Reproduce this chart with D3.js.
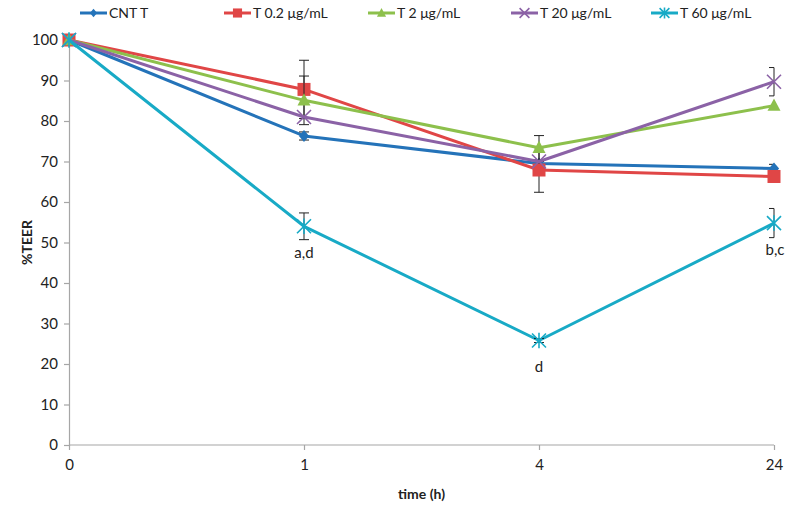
<!DOCTYPE html>
<html><head><meta charset="utf-8">
<script src="https://cdn.jsdelivr.net/npm/d3@7"></script>
<style>body{margin:0;background:#fff}svg{display:block;font-family:Lato,"Open Sans",sans-serif}</style>
</head><body><svg id="c" width="791" height="512"></svg>
<script>
const categories = ["0", "1", "4", "24"];
const seriesNames = ["CNT T", "T 0.2 μg/mL", "T 2 μg/mL", "T 20 μg/mL", "T 60 μg/mL"];
const cntT   = [100, 76.3, 69.5, 68.3];
const t02    = [100, 87.8, 67.9, 66.3];
const t2     = [100, 85.1, 73.4, 83.8];
const t20    = [100, 81.0, 70.0, 89.7];
const t60    = [100, 54.0, 25.8, 54.8];
const errCntT = [0, 1.0, 0.5, 1.0];
const errT02  = [0, 7.2, 5.5, 0];
const errT2   = [0, 6.0, 3.0, 0];
const errT20  = [0, 0, 0, 3.5];
const errT60  = [0, 3.3, 0.5, 3.6];
const yTicks = [0, 10, 20, 30, 40, 50, 60, 70, 80, 90, 100];
const annotations = [{cat: "1", value: 54.0, text: "a,d"}, {cat: "4", value: 25.8, text: "d"}, {cat: "24", value: 54.8, text: "b,c"}];

const colors = ["#2473b9", "#e04646", "#8dc04c", "#8b62a6", "#18aac6"];
const shapes = ["diamond", "square", "triangle", "x", "asterisk"];
const values = [cntT, t02, t2, t20, t60];
const errs = [errCntT, errT02, errT2, errT20, errT60];

const svg = d3.select("#c");
const L = 69, R = 774, T = 40, B = 445;
const x = d3.scalePoint().domain(categories).range([L, R]);
const y = d3.scaleLinear().domain([0, 100]).range([B, T]);

const axisColor = "#a6a6a6";
const yAxis = svg.append("g").attr("transform", `translate(${L},0)`)
  .call(d3.axisLeft(y).tickValues(yTicks).tickSize(5).tickPadding(6));
const xAxis = svg.append("g").attr("transform", `translate(0,${B})`)
  .call(d3.axisBottom(x).tickSize(5).tickPadding(9));
[yAxis, xAxis].forEach(g => {
  g.select(".domain").attr("stroke", axisColor).attr("stroke-width", 1.2);
  g.selectAll(".tick line").attr("stroke", axisColor).attr("stroke-width", 1.2);
  g.selectAll(".tick text").attr("fill", "#222").style("font-size", "15px").style("font-family", "Lato");
});
xAxis.select(".domain").attr("d", `M${L},0H${R}`);

svg.append("text").attr("x", (L + R) / 2).attr("y", 499).attr("text-anchor", "middle")
  .style("font-size", "14px").style("font-weight", "bold").attr("fill", "#222").text("time (h)");
svg.append("text").attr("transform", `translate(32,${(T + B) / 2}) rotate(-90)`).attr("text-anchor", "middle")
  .style("font-size", "14px").style("font-weight", "bold").attr("fill", "#222").text("%TEER");

function marker(g, shape, cx, cy, color, s) {
  if (shape === "diamond") {
    g.append("path").attr("d", `M${cx},${cy - s}L${cx + s * 0.85},${cy}L${cx},${cy + s}L${cx - s * 0.85},${cy}Z`).attr("fill", color);
  } else if (shape === "square") {
    g.append("rect").attr("x", cx - s).attr("y", cy - s).attr("width", 2 * s).attr("height", 2 * s).attr("fill", color);
  } else if (shape === "triangle") {
    g.append("path").attr("d", `M${cx},${cy - s * 1.1}L${cx + s},${cy + s * 0.8}L${cx - s},${cy + s * 0.8}Z`).attr("fill", color);
  } else if (shape === "x") {
    g.append("path").attr("d", `M${cx - s},${cy - s}L${cx + s},${cy + s}M${cx - s},${cy + s}L${cx + s},${cy - s}`)
      .attr("stroke", color).attr("stroke-width", 1.6).attr("fill", "none");
  } else {
    g.append("path").attr("d", `M${cx - s},${cy - s}L${cx + s},${cy + s}M${cx - s},${cy + s}L${cx + s},${cy - s}M${cx},${cy - s * 1.1}L${cx},${cy + s * 1.1}`)
      .attr("stroke", color).attr("stroke-width", 1.6).attr("fill", "none");
  }
}
const markerSize = [6, 6.5, 6.5, 7, 7];

const line = d3.line().x((d, i) => x(categories[i])).y(d => y(d));
values.forEach((vals, si) => {
  const g = svg.append("g");
  g.append("path").datum(vals).attr("d", line).attr("fill", "none")
    .attr("stroke", colors[si]).attr("stroke-width", 3).attr("stroke-linejoin", "round");
  vals.forEach((v, i) => {
    const e = errs[si][i];
    if (!e) return;
    const cx = x(categories[i]);
    const cap = 5;
    const right = i === categories.length - 1 ? 0 : cap;
    const eg = g.append("g").attr("stroke", "#222").attr("stroke-width", 1);
    eg.append("line").attr("x1", cx).attr("x2", cx).attr("y1", y(v + e)).attr("y2", y(v - e));
    eg.append("line").attr("x1", cx - cap).attr("x2", cx + right).attr("y1", y(v + e)).attr("y2", y(v + e));
    eg.append("line").attr("x1", cx - cap).attr("x2", cx + right).attr("y1", y(v - e)).attr("y2", y(v - e));
  });
  vals.forEach((v, i) => marker(g, shapes[si], x(categories[i]), y(v), colors[si], markerSize[si]));
});

annotations.forEach(a => {
  const dx = a.cat === "24" ? 1 : 0;
  svg.append("text").attr("x", x(a.cat) + dx).attr("y", y(a.value) + (a.text === "d" ? 31 : 32))
    .attr("text-anchor", "middle").style("font-size", "15px").attr("fill", "#222").text(a.text);
});

const legendX = [80, 224, 368, 511, 651];
seriesNames.forEach((n, si) => {
  const g = svg.append("g").attr("transform", `translate(${legendX[si]},13)`);
  g.append("line").attr("x1", 0).attr("x2", 27).attr("y1", 0).attr("y2", 0).attr("stroke", colors[si]).attr("stroke-width", 3);
  marker(g, shapes[si], 13.5, 0, colors[si], markerSize[si] * 0.7);
  g.append("text").attr("x", 29).attr("y", 5).style("font-size", "14px").attr("fill", "#222").text(n);
});
</script></body></html>
